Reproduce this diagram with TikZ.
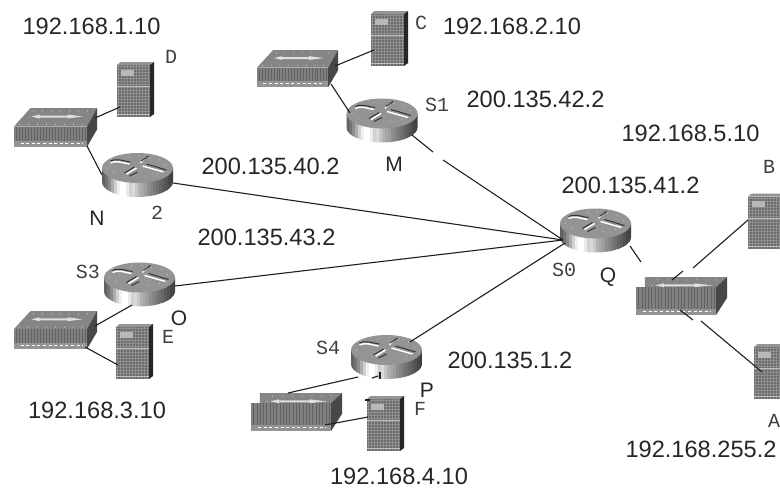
\documentclass[tikz,border=0pt]{standalone}
\usepackage{fontspec}
\setmainfont{Liberation Sans}
\newfontfamily\labelmono{Liberation Mono}
\tikzset{
  devbox/.style={inner sep=0pt,outer sep=0pt,minimum width=#1},
  ipaddr/.style={inner sep=0pt,text=black!85,font=\fontsize{23.6}{25}\selectfont},
  bigletter/.style={inner sep=0pt,text=black!85,font=\fontsize{21}{23}\selectfont},
  portlabel/.style={inner sep=0pt,text=black!75,font=\labelmono\fontsize{20}{22}\selectfont},
  wire/.style={draw=black!88,line width=1.1pt}
}
\newcommand{\RouterDev}[3]{%
  \node[devbox=71pt,minimum height=44pt] (#1) at (#2,#3) {};
  \begin{scope}[shift={(#2,#3)}]
    \begin{scope}
      \clip (-35.5,-7) -- (-35.5,7) arc[start angle=180,end angle=0,x radius=35.5,y radius=15] -- (35.5,-7) -- cycle;
      \foreach \xa/\g in {-36/62,-33/55,-30/45,-27/32,-24/18,-21/6,-18/0,-15/0,-12/8,-9/18,-6/14,-3/22,0/30,3/34,6/38,9/44,12/48,15/52,18/56,21/60,24/64,27/68,30/72,33/75}
        \fill[black!\g] (\xa,-8) rectangle (\xa+3.4,24);
    \end{scope}
    \fill[black!42] (0,-7) ellipse[x radius=35.5,y radius=15];
    \foreach \a/\b in {-26/-16,-18/-13,-8/-18,2/-19,12/-17,22/-15,28/-10,-30/-7,-24/-3,20/-1,8/1,-10/-1}
      \fill[white!78!black] (\a,\b) circle[radius=.6];
    \draw[white,line width=1.5pt] (-27,-12) .. controls (-20,-15) and (-15,-12) .. (-8,-11);
    \draw[white,line width=1.5pt] (5,-9) -- (26,-3);
    \draw[white,line width=1.5pt] (-11,-1) -- (-1,-7);
    \draw[white,line width=1.2pt] (8,-17) -- (3,-12);
    \draw[black!80,line width=1pt] (-27,-14) .. controls (-20,-17) and (-15,-14) .. (-7,-13);
    \draw[black!80,line width=1pt] (9,-11) -- (29,-5);
    \draw[black!80,line width=1pt] (-13,-2) -- (-3,-8) (-8,1) -- (0,-3);
    \draw[black!80,line width=1pt] (11,-19) -- (4,-14);
  \end{scope}}
% #6: outline of the top's back-left corner, #7: y of the top of the front face
\newcommand{\SwitchDev}[7]{%
  \node[devbox=#4pt,minimum height=#5pt] (#1) at (#2,#3) {};
  \begin{scope}[shift={(#2,#3)},xscale=#4/83,yscale=#5/39]
    \fill[black!48] (-41.5,#7) -- #6 -- (41.5,-19.5) -- (31.5,#7) -- cycle;
    \fill[black!72] (31.5,#7) -- (41.5,-19.5) -- (41.5,2) -- (31.5,19.5) -- cycle;
    \fill[black!50] (-41.5,#7) -- (31.5,#7) -- (31.5,19.5) -- (-41.5,19.5) -- cycle;
    \foreach \s in {-39,-36,...,30} \draw[black!62,line width=1pt] (\s,#7) -- (\s,13);
    \fill[black!42] (-41.5,13) rectangle (31.5,19.5);
    \draw[white,line width=1.5pt,dash pattern=on 3pt off 2.6pt] (-35,15.8) -- (27,15.8);
    \fill[black!12] (-24,-11) -- (-16,-13) -- (-16,-12) -- (12,-12) -- (12,-13) -- (27,-11) -- (12,-9) -- (12,-10) -- (-16,-10) -- (-16,-9) -- cycle;
    \foreach \a in {-22,-13,...,33} \fill[black!20] (\a,-16.5) circle[radius=.6];
    \foreach \a in {-36,-27,...,28} \fill[black!20] (\a,#7-2) circle[radius=.6];
  \end{scope}}
\newcommand{\ServerDev}[3]{%
  \node[devbox=37pt,minimum height=55pt] (#1) at (#2,#3) {};
  \begin{scope}[shift={(#2,#3)}]
    \fill[black!42] (-18.5,-24.5) -- (-15,-27.5) -- (18.5,-27.5) -- (14.5,-24.5) -- cycle;
    \fill[black!85] (14.5,-24.5) -- (18.5,-27.5) -- (18.5,24.5) -- (14.5,27.5) -- cycle;
    \fill[black!58] (-18.5,-24.5) rectangle (14.5,27.5);
    \foreach \a in {-17,-14,...,14} \draw[black!44,line width=.55pt] (\a,-24.5) -- (\a,27.5);
    \foreach \b in {-23,-20,...,27} \draw[black!44,line width=.55pt] (-18.5,\b) -- (14.5,\b);
    \fill[black!28] (-15,-20) rectangle (-2,-14);
    \draw[black!25,line width=1pt] (-18.5,-3) -- (14.5,-3);
    \draw[black!25,line width=1pt] (-18.5,25) -- (14.5,25);
  \end{scope}}
\begin{document}
\begin{tikzpicture}[x=1pt,y=-1pt]
\useasboundingbox (0,0) rectangle (780,490);
\clip (0,0) rectangle (780,490);
\fill[white] (0,0) rectangle (780,490);
\RouterDev{N}{137.5}{175}
\RouterDev{M}{382}{120.5}
\RouterDev{Q}{595.5}{230.5}
\RouterDev{O}{139.5}{284.5}
\RouterDev{P}{386.5}{357}
\SwitchDev{swN}{55.5}{127.5}{83}{39}{(-25,-19.5)}{-1}
\SwitchDev{swM}{297.5}{68.5}{81}{37}{(-25,-19.5)}{-1}
\SwitchDev{swQ}{681.5}{296}{91}{38}{(-33.3,-9) -- (-33.3,-19.5)}{-9}
\SwitchDev{swO}{55.5}{330}{83}{38}{(-25,-19.5)}{-1}
\SwitchDev{swP}{296.5}{412}{91}{38}{(-33.3,-9) -- (-33.3,-19.5)}{-9}
\ServerDev{D}{135.5}{89.5}
\ServerDev{C}{389.5}{38.5}
\ServerDev{B}{766.5}{221}
\ServerDev{A}{772.5}{371.5}
\ServerDev{E}{134.5}{351.5}
\ServerDev{F}{385.5}{423.5}
% connectors
\draw[wire] ([shift={(-15.5,17.5)}]D.center) -- ([shift={(39.5,-9.5)}]swN.center);
\draw[wire] ([shift={(31.5,18.5)}]swN.center) -- ([shift={(-35.5,0)}]N.center);
\draw[wire] ([shift={(35.5,8)}]N.center) -- ([shift={(-32.5,9.5)}]Q.center);
\draw[wire] ([shift={(-15.5,11.5)}]C.center) -- ([shift={(37.5,-2.5)}]swM.center);
\draw[wire] ([shift={(33.5,15.5)}]swM.center) -- ([shift={(-32,-7.5)}]M.center);
\coordinate (mqA) at ([shift={(51,31.5)}]M.center);
\coordinate (mqB) at ([shift={(-152.5,-70.5)}]Q.center);
\draw[wire] ([shift={(30,14.5)}]M.center) -- (mqA);
\draw[wire] (mqB) -- ([shift={(-32.5,9.5)}]Q.center);
\draw[wire] ([shift={(35.5,1.5)}]O.center) -- ([shift={(-32.5,9.5)}]Q.center);
\draw[wire] ([shift={(23.5,-15)}]P.center) -- ([shift={(-30.5,12.5)}]Q.center);
\draw[wire] ([shift={(-7.5,20.5)}]O.center) -- ([shift={(39.5,-4)}]swO.center);
\draw[wire] ([shift={(29.5,17)}]swO.center) -- ([shift={(-16.5,13.5)}]E.center);
\draw[wire] ([shift={(-28.5,20)}]P.center) -- ([shift={(-8.5,-19)}]swP.center);
\coordinate (pfragA) at ([shift={(-8.5,19)}]P.center);
\coordinate (pfragB) at ([shift={(-14.5,21)}]P.center);
\draw[wire] (pfragA) -- (pfragB);
\coordinate (ptickA) at ([shift={(-6.5,15)}]P.center);
\coordinate (ptickB) at ([shift={(-6.5,22)}]P.center);
\draw[wire] (ptickA) -- (ptickB);
\draw[wire] ([shift={(28.5,13)}]swP.center) -- ([shift={(-17.5,-6.5)}]F.center);
\coordinate (ftickB) at ([shift={(-15.5,-23.5)}]F.center);
\draw[wire] ([shift={(-20.5,-23.5)}]F.center) -- (ftickB);
\coordinate (qsA) at ([shift={(45.5,31.5)}]Q.center);
\draw[wire] ([shift={(34.5,15.5)}]Q.center) -- (qsA);
\coordinate (sbA) at ([shift={(1.5,-25)}]swQ.center);
\coordinate (sbB) at ([shift={(11.5,-28)}]swQ.center);
\draw[wire] ([shift={(-9.5,-16)}]swQ.center) -- (sbA);
\draw[wire] (sbB) -- ([shift={(-18.5,-1)}]B.center);
\coordinate (saA) at ([shift={(11.5,24)}]swQ.center);
\coordinate (saB) at ([shift={(19.5,25)}]swQ.center);
\draw[wire] ([shift={(-1.5,14)}]swQ.center) -- (saA);
\draw[wire] (saB) -- ([shift={(-10.5,0.5)}]A.center);
% addresses
\node[ipaddr] (ip1) at (91.5,26) {192.168.1.10};
\node[ipaddr] (ip2) at (512,26) {192.168.2.10};
\node[ipaddr] (ip3) at (535.5,99) {200.135.42.2};
\node[ipaddr] (ip4) at (690.5,133) {192.168.5.10};
\node[ipaddr] (ip5) at (630.5,185) {200.135.41.2};
\node[ipaddr] (ip6) at (270.5,166) {200.135.40.2};
\node[ipaddr] (ip7) at (266.5,237) {200.135.43.2};
\node[ipaddr] (ip8) at (510,360) {200.135.1.2};
\node[ipaddr] (ip9) at (97,410) {192.168.3.10};
\node[ipaddr] (ip10) at (399,476) {192.168.4.10};
\node[ipaddr] (ip11) at (701,449) {192.168.255.2};
% router letters
\node[bigletter] (tN) at (97,218) {N};
\node[bigletter] (tM) at (394,164) {M};
\node[bigletter] (tQ) at (608,277) {Q};
\node[bigletter] (tO) at (179,318) {O};
\node[bigletter] (tP) at (427,390) {P};
% port and host labels
\node[portlabel] (lD) at (171,57) {D};
\node[portlabel] (lC) at (421,23) {C};
\node[portlabel] (lB) at (769,167) {B};
\node[portlabel] (lA) at (774,421) {A};
\node[portlabel] (lE) at (168,337) {E};
\node[portlabel] (lF) at (420,409) {F};
\node[portlabel] (lS1) at (437,105) {S1};
\node[portlabel] (lS3) at (88,272) {S3};
\node[portlabel] (lS4) at (328,348) {S4};
\node[portlabel] (lS0) at (564,270) {S0};
\node[portlabel] (l2) at (157,213) {2};
\end{tikzpicture}
\end{document}
